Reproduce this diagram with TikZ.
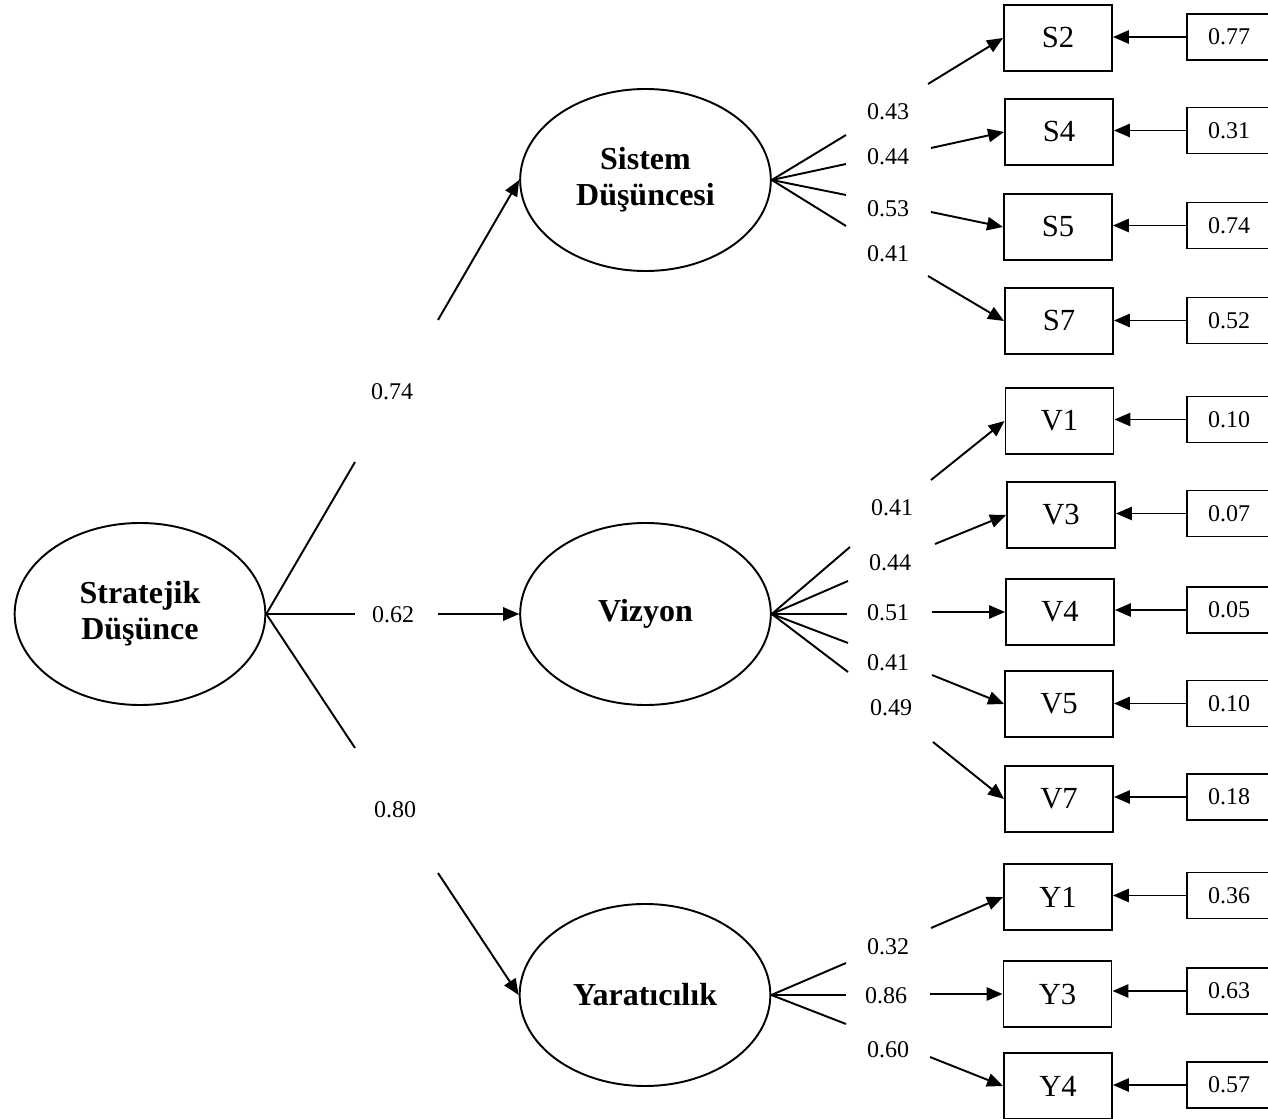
\documentclass[tikz,border=0pt]{standalone}
\usepackage{fontspec}
\setmainfont{Liberation Serif}
\usetikzlibrary{arrows.meta,shapes.geometric}

\begin{document}
\begin{tikzpicture}[x=0.75pt,y=-0.75pt,
  line width=1.45pt,
  latent/.style={draw,ellipse,minimum width=188pt,minimum height=136.5pt,inner sep=0pt,
                 align=center,font=\fontsize{24}{27}\selectfont\bfseries},
  ind/.style={draw,rectangle,minimum width=81pt,minimum height=49.5pt,inner sep=0pt,
              font=\fontsize{23}{27}\selectfont},
  err/.style={draw,rectangle,minimum width=63pt,minimum height=34.5pt,inner sep=0pt,
              font=\fontsize{18}{21}\selectfont},
  coef/.style={inner sep=1pt,font=\fontsize{18}{21}\selectfont},
  tip/.style={-{Triangle[length=12pt,width=10pt]}},
]
\useasboundingbox (0,0) rectangle (1268,1119);

% latent variables
\node[latent] (SD)  at (140,614)   {Stratejik\\Düşünce};
\node[latent] (SIS) at (645.5,180) {Sistem\\Düşüncesi};
\node[latent] (VIZ) at (645.5,614) {Vizyon};
\node[latent] (YAR) at (645,995)   {Yaratıcılık};

% second-order loadings (line, coefficient, arrow)
\coordinate (u1) at (355,462);  \coordinate (u2) at (438,320);
\coordinate (m1) at (355,614);  \coordinate (m2) at (438,614);
\coordinate (d1) at (355,748);  \coordinate (d2) at (438,873);
\draw (SD.east) -- (u1);
\node[coef] (cSIS) at (392,392) {0.74};
\draw[tip] (u2) -- (SIS.west);
\draw (SD.east) -- (m1);
\node[coef] (cVIZ) at (393,615) {0.62};
\draw[tip] (m2) -- (VIZ.west);
\draw (SD.east) -- (d1);
\node[coef] (cYAR) at (395,810) {0.80};
\draw[tip] (d2) -- (YAR.west);

% observed indicators with their error terms
\foreach \n/\x/\y/\e/\ey in {S2/1058/38/0.77/37, S4/1059/132/0.31/130.5,
    S5/1058/227/0.74/225.5, S7/1059/321/0.52/320.5,
    V1/1059.5/421/0.10/419.5, V3/1061/515/0.07/513.5, V4/1060/612/0.05/610,
    V5/1059/704/0.10/703.5, V7/1059/799/0.18/797,
    Y1/1058/897/0.36/895.5, Y3/1057.5/994/0.63/991, Y4/1058/1086/0.57/1085} {
  \node[ind] (\n) at (\x,\y) {\n};
  \node[err] (e\n) at (1229,\ey) {\e};
  \draw[tip] (e\n.west) -- (e\n.west -| \n.east);
}

% first-order loadings: Sistem Düşüncesi
\foreach \n/\fx/\fy/\lx/\ly/\v/\sx/\sy in {S2/846/135/888/112/0.43/928/84,
    S4/846/164/888/157/0.44/931/148, S5/846/195/888/209/0.53/931/212,
    S7/846/226/888/254/0.41/928/276} {
  \coordinate (f\n) at (\fx,\fy);
  \coordinate (s\n) at (\sx,\sy);
  \draw (SIS.east) -- (f\n);
  \node[coef] (l\n) at (\lx,\ly) {\v};
  \draw[tip] (s\n) -- (\n.west);
}

% first-order loadings: Vizyon
\foreach \n/\fx/\fy/\lx/\ly/\v/\sx/\sy in {V1/850/547/892/508/0.41/931/480,
    V3/848/581/890/563/0.44/935/544, V4/847/614/888/613/0.51/932/612,
    V5/848/643/888/663/0.41/932/675, V7/848/672/891/708/0.49/933/742} {
  \coordinate (f\n) at (\fx,\fy);
  \coordinate (s\n) at (\sx,\sy);
  \draw (VIZ.east) -- (f\n);
  \node[coef] (l\n) at (\lx,\ly) {\v};
  \draw[tip] (s\n) -- (\n.west);
}

% first-order loadings: Yaratıcılık
\foreach \n/\fx/\fy/\lx/\ly/\v/\sx/\sy in {Y1/846/963/888/947/0.32/931/928,
    Y3/846/995/886/996/0.86/930/994, Y4/846/1024/888/1050/0.60/930/1057} {
  \coordinate (f\n) at (\fx,\fy);
  \coordinate (s\n) at (\sx,\sy);
  \draw (YAR.east) -- (f\n);
  \node[coef] (l\n) at (\lx,\ly) {\v};
  \draw[tip] (s\n) -- (\n.west);
}
\end{tikzpicture}
\end{document}
